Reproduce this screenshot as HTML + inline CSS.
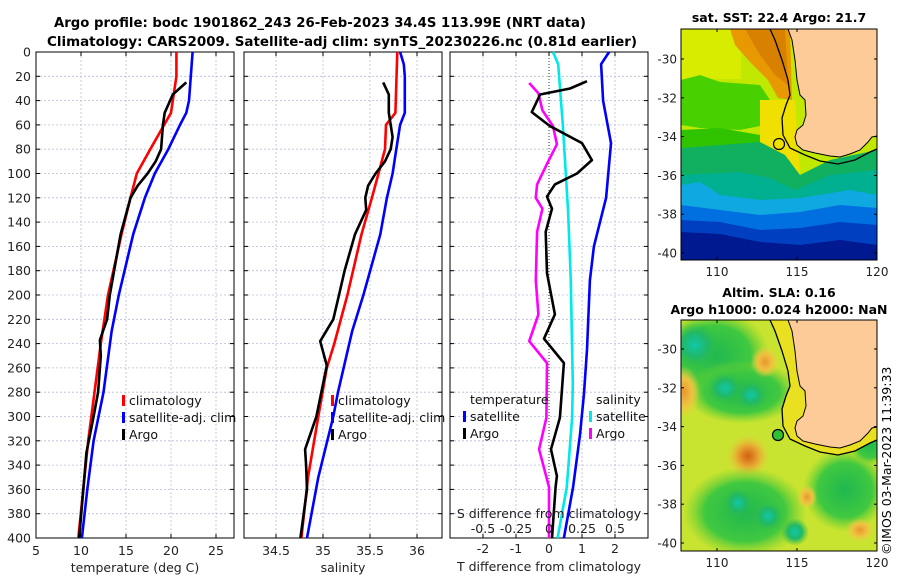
<!DOCTYPE html>
<html><head><meta charset="utf-8"><style>
html,body{margin:0;padding:0;background:#fff}
svg{display:block;font-family:"DejaVu Sans","Liberation Sans",sans-serif}
</style></head><body>
<svg id="fig" width="900" height="580" viewBox="0 0 900 580">
<defs>
<clipPath id="mapclip"><rect x="681" y="29" width="196" height="231"/></clipPath>
<clipPath id="mapclip2"><rect x="681" y="320" width="196" height="231"/></clipPath>
<radialGradient id="gTeal"><stop offset="0" stop-color="#10c8a8"/><stop offset="0.5" stop-color="#20b868"/><stop offset="1" stop-color="#30c040" stop-opacity="0"/></radialGradient>
<radialGradient id="gGreen"><stop offset="0" stop-color="#20b850"/><stop offset="0.65" stop-color="#40c840"/><stop offset="1" stop-color="#70d030" stop-opacity="0"/></radialGradient>
<radialGradient id="gOrange"><stop offset="0" stop-color="#d06010"/><stop offset="0.45" stop-color="#e8a030"/><stop offset="1" stop-color="#f0d040" stop-opacity="0"/></radialGradient>
<radialGradient id="gOrangeL"><stop offset="0" stop-color="#e89830"/><stop offset="0.5" stop-color="#f0c040"/><stop offset="1" stop-color="#f0d040" stop-opacity="0"/></radialGradient>
</defs>
<g font-weight="bold" font-size="13" text-anchor="middle" fill="#000">
<text x="320" y="27" textLength="532" lengthAdjust="spacingAndGlyphs">Argo profile: bodc 1901862_243 26-Feb-2023 34.4S 113.99E (NRT data)</text>
<text x="342" y="46" textLength="590" lengthAdjust="spacingAndGlyphs">Climatology: CARS2009. Satellite-adj clim: synTS_20230226.nc (0.81d earlier)</text>
</g>
<g id="plots"></g>
<g id="maps">
 <text x="779" y="22" font-size="12.5" font-weight="bold" text-anchor="middle">sat. SST: 22.4 Argo: 21.7</text>
 <g clip-path="url(#mapclip)">
  <rect x="681" y="29" width="196" height="231" fill="#c0e800"/>
  <rect x="681" y="29" width="60" height="50" fill="#d8ec00"/>
  <path d="M681,80 L700,75 L720,82 L760,85 L770,100 L765,125 L740,130 L700,128 L681,125Z" fill="#48d000"/>
  <path d="M730,29 L790,29 L792,100 L778,98 L768,80 L750,62 L735,45Z" fill="#e89800"/>
  <path d="M745,29 L785,29 L788,85 L775,75 L760,55Z" fill="#d88000"/>
  <path d="M681,130 L720,128 L760,135 L770,142 L681,150Z" fill="#30c400"/>
  <path d="M760,100 L795,100 L800,175 L790,185 L775,160 L760,145Z" fill="#f0e000"/>
  <path d="M681,148 L760,142 L785,155 L800,175 L830,160 L877,150 L877,260 L681,260Z" fill="#10b060"/>
  <path d="M681,175 L740,172 L770,178 L795,190 L830,175 L877,170 L877,260 L681,260Z" fill="#00b090"/>
  <path d="M681,185 L700,182 L720,195 L760,200 L800,198 L850,190 L877,195 L877,260 L681,260Z" fill="#10a8e0"/>
  <path d="M681,205 L720,210 L760,215 L800,212 L840,205 L877,208 L877,260 L681,260Z" fill="#0070e0"/>
  <path d="M681,220 L720,222 L760,230 L800,228 L840,222 L877,225 L877,260 L681,260Z" fill="#0040c0"/>
  <path d="M681,232 L720,234 L760,242 L800,245 L840,240 L877,245 L877,260 L681,260Z" fill="#001890"/>
  <path d="M788,29 L792,40 L795,60 L797,80 L800,95 L805,100 L806,115 L803,125 L797,130 L795,137 L797,145 L803,150 L815,153 L830,156 L840,157 L850,154 L860,150 L868,142 L872,137 L877,136 L877,29Z" fill="#fccb98" stroke="#000" stroke-width="1"/>
  <path d="M770,29 L775,40 L782,60 L788,80 L790,95 L786,105 L782,118 L783,135 L790,148 L805,155 L820,161 L838,164 L855,160 L870,152 L877,149" fill="none" stroke="#000" stroke-width="1.3"/>
  <circle cx="779" cy="144" r="5.5" fill="none" stroke="#000" stroke-width="1.2"/>
 </g>
 <rect x="681" y="29" width="196" height="231" fill="none" stroke="#000" stroke-width="1"/>
 <text x="779" y="297" font-size="12.5" font-weight="bold" text-anchor="middle">Altim. SLA: 0.16</text>
 <text x="779" y="314" font-size="12.5" font-weight="bold" text-anchor="middle">Argo h1000: 0.024 h2000: NaN</text>
 <g clip-path="url(#mapclip2)">
  <rect x="681" y="320" width="196" height="231" fill="#c8e430"/>
  <ellipse cx="715" cy="355" rx="55" ry="45" fill="url(#gGreen)"/>
  <ellipse cx="695" cy="345" rx="25" ry="24" fill="url(#gTeal)"/>
  <ellipse cx="742" cy="392" rx="58" ry="32" fill="url(#gGreen)"/>
  <ellipse cx="725" cy="388" rx="18" ry="16" fill="url(#gTeal)"/>
  <ellipse cx="751" cy="395" rx="16" ry="15" fill="url(#gTeal)"/>
  <ellipse cx="684" cy="392" rx="16" ry="26" fill="url(#gOrangeL)"/>
  <ellipse cx="765" cy="362" rx="14" ry="16" fill="url(#gOrangeL)"/>
  <ellipse cx="748" cy="456" rx="22" ry="22" fill="url(#gOrange)"/>
  <ellipse cx="745" cy="512" rx="62" ry="45" fill="url(#gGreen)"/>
  <ellipse cx="738" cy="503" rx="15" ry="15" fill="url(#gTeal)"/>
  <ellipse cx="768" cy="516" rx="15" ry="15" fill="url(#gTeal)"/>
  <ellipse cx="795" cy="532" rx="14" ry="14" fill="url(#gTeal)"/>
  <ellipse cx="845" cy="490" rx="42" ry="42" fill="url(#gGreen)"/>
  <ellipse cx="870" cy="445" rx="20" ry="20" fill="url(#gGreen)"/>
  <ellipse cx="807" cy="497" rx="10" ry="12" fill="url(#gOrangeL)"/>
  <ellipse cx="860" cy="530" rx="14" ry="12" fill="url(#gOrangeL)"/>
  <g transform="translate(0,291)">
  <path d="M770,29 L775,40 L782,60 L788,80 L790,95 L786,105 L782,118 L783,135 L790,148 L805,155 L820,161 L838,164 L855,160 L870,152 L877,149 L877,136 L872,137 L868,142 L860,150 L850,154 L840,157 L830,156 L815,153 L803,150 L797,145 L795,137 L797,130 L803,125 L806,115 L805,100 L800,95 L797,80 L795,60 L792,40 L788,29Z" fill="#e8e020"/>
  <path d="M788,29 L792,40 L795,60 L797,80 L800,95 L805,100 L806,115 L803,125 L797,130 L795,137 L797,145 L803,150 L815,153 L830,156 L840,157 L850,154 L860,150 L868,142 L872,137 L877,136 L877,29Z" fill="#fccb98" stroke="#000" stroke-width="1"/>
  <path d="M770,29 L775,40 L782,60 L788,80 L790,95 L786,105 L782,118 L783,135 L790,148 L805,155 L820,161 L838,164 L855,160 L870,152 L877,149" fill="none" stroke="#000" stroke-width="1.3"/>
  </g>
  <circle cx="778" cy="435" r="5.5" fill="#30c030" stroke="#000" stroke-width="1.2"/>
 </g>
 <rect x="681" y="320" width="196" height="231" fill="none" stroke="#000" stroke-width="1"/>
 <text transform="translate(891,555) rotate(-90)" font-size="12.5">©IMOS 03-Mar-2023 11:39:33</text>
</g>
<g id="mapaxes" font-size="12" fill="#222"></g>
</svg>
<script>
// ---------- data ----------
const depthTicks=[0,20,40,60,80,100,120,140,160,180,200,220,240,260,280,300,320,340,360,380,400];
const tempTicks=[5,10,15,20,25];
const salTicks=[34.5,35,35.5,36];
const tdiffTicks=[-2,-1,0,1,2];
const sdiffTickLabels=["-0.5","-0.25","0","0.25","0.5"];
const sdiffTicks=[-0.5,-0.25,0,0.25,0.5];

const tClimDepth=[0,20,50,80,100,120,150,200,240,280,320,400];
const tClimVal=[20.6,20.6,20.0,17.7,16.2,15.5,14.5,13.0,12.2,11.5,10.8,9.7];
const tSatDepth=[0,20,40,50,60,80,100,120,150,200,230,280,320,360,400];
const tSatVal=[22.4,22.2,22.0,21.7,21.0,19.7,18.2,17.1,15.8,14.2,13.4,12.5,11.4,10.7,10.1];
const tArgoDepth=[25,35,50,60,80,90,100,110,120,150,200,220,237,250,260,280,300,330,400];
const tArgoVal=[21.7,20.2,19.3,19.1,18.9,18.3,17.4,16.3,15.5,14.4,13.2,12.9,12.1,12.2,12.1,11.9,11.4,10.6,9.8];

const sClimDepth=[0,50,60,80,100,120,150,200,240,260,300,350,400];
const sClimVal=[35.79,35.77,35.67,35.66,35.59,35.52,35.41,35.26,35.12,35.04,34.95,34.84,34.77];
const sSatDepth=[0,10,20,50,60,80,100,120,150,200,230,280,300,350,400];
const sSatVal=[35.82,35.86,35.87,35.87,35.82,35.78,35.74,35.68,35.61,35.43,35.31,35.16,35.11,34.95,34.83];
const sArgoDepth=[25,35,50,70,80,90,100,110,120,130,150,180,200,220,238,258,300,327,340,360,400];
const sArgoVal=[35.64,35.70,35.70,35.74,35.72,35.66,35.56,35.48,35.45,35.46,35.34,35.23,35.17,35.11,34.97,35.04,34.93,34.81,34.82,34.83,34.76];

const dTSatDepth=[0,10,40,75,120,160,188,245,281,315,358,400];
const dTSatVal=[1.82,1.58,1.64,1.88,1.73,1.36,1.24,1.15,1.06,0.94,0.73,0.45];
const dSSatDepth=[0,10,61,131,188,273,301,358,400];
const dSSatVal=[0.03,0.07,0.105,0.145,0.165,0.18,0.175,0.135,0.065];
const dTArgoDepth=[24,30,35,49.5,61,75,89,100,109,119,129,148,182,216,236,256,301,327,349,358,400];
const dTArgoVal=[1.15,0.64,-0.27,-0.52,0.03,1.0,1.3,0.85,0.18,-0.06,0.09,-0.1,-0.06,0.18,-0.15,0.45,0.33,0.06,0.24,0.2,0.09];
const dSArgoDepth=[25.5,34,48,61,76,92,109,120,129,148,188,216,238,256,301,327,358,400];
const dSArgoVal=[-0.15,-0.08,-0.05,0.03,0.06,-0.015,-0.09,-0.1,-0.05,-0.09,-0.1,-0.08,-0.15,-0.015,-0.02,-0.075,0,0];

const latTicks=[-30,-32,-34,-36,-38,-40];
const lonTicks=[110,115,120];

// ---------- helpers ----------
const NS="http://www.w3.org/2000/svg";
const root=document.getElementById('plots');
function mk(tag,attrs,parent){const e=document.createElementNS(NS,tag);for(const k in attrs)e.setAttribute(k,attrs[k]);(parent||root).appendChild(e);return e;}
const Y0=52,Y1=538;
const yD=d=>Y0+d*(Y1-Y0)/400;
const panels=[
 {name:'temperature',x0:36,x1:234,sx:v=>36+(v-5)*9,ticks:tempTicks,labels:tempTicks.map(String),title:'temperature (deg C)'},
 {name:'salinity',x0:244,x1:442,sx:v=>323+(v-35)*94,ticks:salTicks,labels:salTicks.map(String),title:'salinity'},
 {name:'difference',x0:450,x1:648,sx:v=>549+v*33,ticks:tdiffTicks,labels:tdiffTicks.map(String),title:'T difference from climatology'}
];
const sdx=v=>549+v*132;

panels.forEach((p,i)=>{
 const g=mk('g',{});
 
 
 depthTicks.forEach(d=>{
  if(d===0||d===400)return;
  const l=mk('line',{x1:p.x0,x2:p.x1,y1:yD(d),y2:yD(d),stroke:'#b8bcd8','stroke-width':0.8,'stroke-dasharray':'2,2'},g);
  
  
 });
 p.ticks.forEach(t=>{
  const x=p.sx(t);
  if(x<=p.x0+1||x>=p.x1-1)return;
  const isZero=(i===2&&t===0);
  const l=mk('line',{x1:x,x2:x,y1:Y0,y2:Y1,stroke:isZero?'#333':'#b8bcd8','stroke-width':isZero?1:0.8,'stroke-dasharray':isZero?'1,2':'2,2'},g);
  
  
 });
 depthTicks.forEach(d=>{
  mk('line',{x1:p.x0,x2:p.x0+4,y1:yD(d),y2:yD(d),stroke:'#000'},g);
  mk('line',{x1:p.x1-4,x2:p.x1,y1:yD(d),y2:yD(d),stroke:'#000'},g);
 });
 p.ticks.forEach((t,k)=>{
  const x=p.sx(t);
  mk('line',{x1:x,x2:x,y1:Y1,y2:Y1-4,stroke:'#000'},g);
  mk('line',{x1:x,x2:x,y1:Y0,y2:Y0+4,stroke:'#000'},g);
  const tx=mk('text',{x:x,y:i===2?553:555,'font-size':12.5,'text-anchor':'middle',fill:'#222'},g);
  tx.textContent=p.labels[k];
  
  
 });
 const tt=mk('text',{x:(p.x0+p.x1)/2,y:i===2?571:572,'font-size':12.5,'text-anchor':'middle',fill:'#222'},g);
 tt.textContent=p.title;
 
 
 const fr=mk('rect',{x:p.x0,y:Y0,width:p.x1-p.x0,height:Y1-Y0,fill:'none',stroke:'#000','stroke-width':1},g);
 
 
 p.g=g;
});
depthTicks.forEach(d=>{
 const t=mk('text',{x:31,y:yD(d)+4.5,'font-size':12.5,'text-anchor':'end',fill:'#222'});
 t.textContent=String(d);
 
 
});
function line(depths,vals,sx,color,name,g){
 const pts=depths.map((d,k)=>sx(vals[k]).toFixed(1)+','+yD(d).toFixed(1)).join(' ');
 const pl=mk('polyline',{points:pts,fill:'none',stroke:color,'stroke-width':2.6,'stroke-linejoin':'round'},g);
 
 
}
const P=panels;
line(tClimDepth,tClimVal,P[0].sx,'#f00','temp-climatology-line',P[0].g);
line(tSatDepth,tSatVal,P[0].sx,'#00f','temp-satellite-line',P[0].g);
line(tArgoDepth,tArgoVal,P[0].sx,'#000','temp-argo-line',P[0].g);
line(sClimDepth,sClimVal,P[1].sx,'#f00','sal-climatology-line',P[1].g);
line(sSatDepth,sSatVal,P[1].sx,'#00f','sal-satellite-line',P[1].g);
line(sArgoDepth,sArgoVal,P[1].sx,'#000','sal-argo-line',P[1].g);
line(dSSatDepth,dSSatVal,sdx,'#00e8e8','sdiff-satellite-line',P[2].g);
line(dTSatDepth,dTSatVal,P[2].sx,'#00f','tdiff-satellite-line',P[2].g);
line(dSArgoDepth,dSArgoVal,sdx,'#f0f','sdiff-argo-line',P[2].g);
line(dTArgoDepth,dTArgoVal,P[2].sx,'#000','tdiff-argo-line',P[2].g);

const sl=mk('text',{x:549,y:518,'font-size':12.5,'text-anchor':'middle',fill:'#222'});
sl.textContent='S difference from climatology';


sdiffTicks.forEach((v,k)=>{
 const t=mk('text',{x:sdx(v),y:533,'font-size':12.5,'text-anchor':'middle',fill:'#222'});
 t.textContent=sdiffTickLabels[k];
 
 
});
function legend(x,items,name){
 const g=mk('g',{});
 
 
 items.forEach(it=>{
  if(it.c) mk('rect',{x:x-7,y:it.y-10,width:3,height:11,fill:it.c},g);
  const t=mk('text',{x:x,y:it.y,'font-size':12.5,fill:'#111'},g);
  t.textContent=it.t;
 });
}
legend(129,[{t:'climatology',c:'#f00',y:405},{t:'satellite-adj. clim',c:'#00f',y:422},{t:'Argo',c:'#000',y:439}],'temperature-legend');
legend(338,[{t:'climatology',c:'#f00',y:405},{t:'satellite-adj. clim',c:'#00f',y:422},{t:'Argo',c:'#000',y:439}],'salinity-legend');
legend(470,[{t:'temperature',y:404},{t:'satellite',c:'#00f',y:421},{t:'Argo',c:'#000',y:438}],'tdiff-legend');
legend(596,[{t:'salinity',y:404},{t:'satellite',c:'#00e8e8',y:421},{t:'Argo',c:'#f0f',y:438}],'sdiff-legend');

const ma=document.getElementById('mapaxes');
const lonX=v=>717+(v-110)*16;
[[29,260,59],[320,551,349]].forEach(([top,bot,y30],mi)=>{
 latTicks.forEach(l=>{
  const y=y30+(-30-l)*19.4;
  mk('line',{x1:681,x2:684,y1:y,y2:y,stroke:'#000'},ma);
  mk('line',{x1:874,x2:877,y1:y,y2:y,stroke:'#000'},ma);
  const t=mk('text',{x:677,y:y+4.5,'text-anchor':'end'},ma);
  t.textContent=String(l);
  
  
 });
 lonTicks.forEach(v=>{
  const x=lonX(v);
  mk('line',{x1:x,x2:x,y1:bot,y2:bot-3,stroke:'#000'},ma);
  mk('line',{x1:x,x2:x,y1:top,y2:top+3,stroke:'#000'},ma);
  const t=mk('text',{x:x,y:bot+16,'text-anchor':'middle'},ma);
  t.textContent=String(v);
  
  
 });
});
</script>
</body></html>
